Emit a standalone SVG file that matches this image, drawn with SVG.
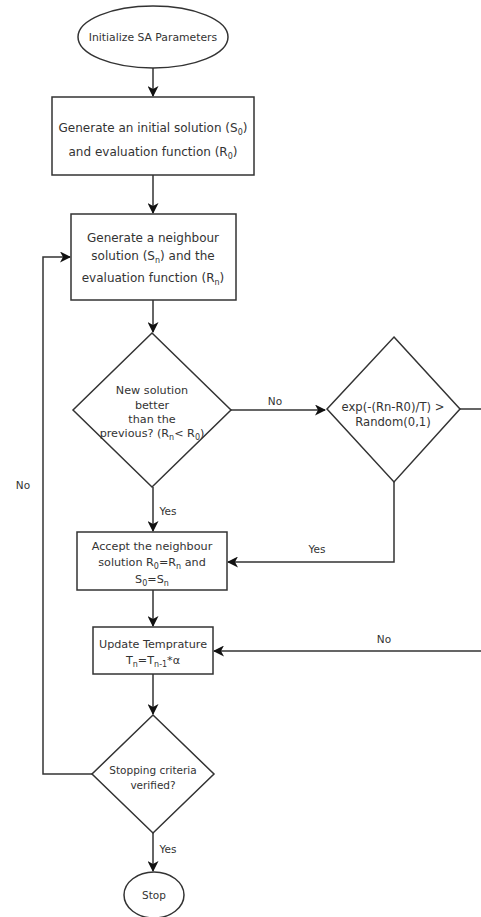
<svg xmlns="http://www.w3.org/2000/svg" width="481" height="917" viewBox="0 0 481 917">
<style>
.shape{fill:#fff;stroke:#333;stroke-width:1.5}
.edge{fill:none;stroke:#333;stroke-width:1.5}
text{font-family:"DejaVu Sans","Liberation Sans",sans-serif;font-size:10.5px;fill:#333;text-anchor:middle}
.sub{font-size:8px}
.big{font-size:12px}
.mid{font-size:11.2px}
</style>
<defs>
<marker id="arr" markerWidth="11" markerHeight="11" refX="10" refY="5.5" orient="auto" markerUnits="userSpaceOnUse">
<path d="M0,0 L11,5.5 L0,11 L3,5.5 Z" fill="#111"/>
</marker>
</defs>
<rect width="481" height="917" fill="#fff"/>
<g id="connectors">
<path class="edge" d="M153,68 V96" marker-end="url(#arr)"/>
<path class="edge" d="M153,175 V213" marker-end="url(#arr)"/>
<path class="edge" d="M153,300 V332" marker-end="url(#arr)"/>
<path class="edge" d="M231,410 H325" marker-end="url(#arr)"/>
<path class="edge" d="M460,409 H483 V651 H214" marker-end="url(#arr)"/>
<path class="edge" d="M394,482 V562 H228" marker-end="url(#arr)"/>
<path class="edge" d="M153,487 V531" marker-end="url(#arr)"/>
<path class="edge" d="M153,590 V626" marker-end="url(#arr)"/>
<path class="edge" d="M153,674 V714" marker-end="url(#arr)"/>
<path class="edge" d="M92,774 H43 V257 H70" marker-end="url(#arr)"/>
<path class="edge" d="M153,833 V871" marker-end="url(#arr)"/>
<text x="275" y="405">No</text>
<text x="317" y="553">Yes</text>
<text x="384" y="643">No</text>
<text x="23" y="489">No</text>
<text x="168" y="515">Yes</text>
<text x="168" y="853">Yes</text>
</g>
<g id="init">
<ellipse class="shape" cx="153" cy="37" rx="75" ry="31"/>
<text x="153" y="41" style="font-size:10.8px">Initialize SA Parameters</text>
</g>
<g id="gen-initial">
<rect class="shape" x="52" y="97" width="202" height="78"/>
<text class="big" x="153" y="132">Generate an initial solution (S<tspan class="sub" dy="3">0</tspan><tspan dy="-3">)</tspan></text>
<text class="big" x="153" y="156">and evaluation function (R<tspan class="sub" dy="3">0</tspan><tspan dy="-3">)</tspan></text>
</g>
<g id="gen-neighbour">
<rect class="shape" x="71" y="214" width="165" height="86"/>
<text class="big" x="153" y="242">Generate a neighbour</text>
<text class="big" x="153" y="260">solution (S<tspan class="sub" dy="3">n</tspan><tspan dy="-3">) and the</tspan></text>
<text class="big" x="153" y="282">evaluation function (R<tspan class="sub" dy="3">n</tspan><tspan dy="-3">)</tspan></text>
</g>
<g id="better">
<polygon class="shape" points="152,333 231,410 152,487 73,410"/>
<text class="mid" x="152" y="394">New solution</text>
<text class="mid" x="152" y="409">better</text>
<text class="mid" x="152" y="423">than the</text>
<text class="mid" x="152" y="437">previous? (R<tspan class="sub" dy="3">n</tspan><tspan dy="-3">&lt; R</tspan><tspan class="sub" dy="3">0</tspan><tspan dy="-3">)</tspan></text>
</g>
<g id="metropolis">
<polygon class="shape" points="394,337 460,409 394,482 327,409"/>
<text x="393" y="411" style="font-size:11.6px">exp(-(Rn-R0)/T) &gt;</text>
<text x="393" y="426" style="font-size:11.6px">Random(0,1)</text>
</g>
<g id="accept">
<rect class="shape" x="77" y="532" width="150" height="58"/>
<text class="mid" x="152" y="550">Accept the neighbour</text>
<text class="mid" x="152" y="566">solution R<tspan class="sub" dy="3">0</tspan><tspan dy="-3">=R</tspan><tspan class="sub" dy="3">n</tspan><tspan dy="-3"> and</tspan></text>
<text class="mid" x="152" y="583">S<tspan class="sub" dy="3">0</tspan><tspan dy="-3">=S</tspan><tspan class="sub" dy="3">n</tspan></text>
</g>
<g id="update">
<rect class="shape" x="93" y="627" width="120" height="47"/>
<text class="mid" x="153" y="648">Update Temprature</text>
<text class="mid" x="153" y="664">T<tspan class="sub" dy="3">n</tspan><tspan dy="-3">=T</tspan><tspan class="sub" dy="3">n-1</tspan><tspan dy="-3">*α</tspan></text>
</g>
<g id="stopping">
<polygon class="shape" points="153,715 214,774 153,833 92,774"/>
<text x="153" y="774">Stopping criteria</text>
<text x="153" y="789">verified?</text>
</g>
<g id="stop">
<ellipse class="shape" cx="154" cy="895" rx="30" ry="23"/>
<text x="154" y="899">Stop</text>
</g>
</svg>
